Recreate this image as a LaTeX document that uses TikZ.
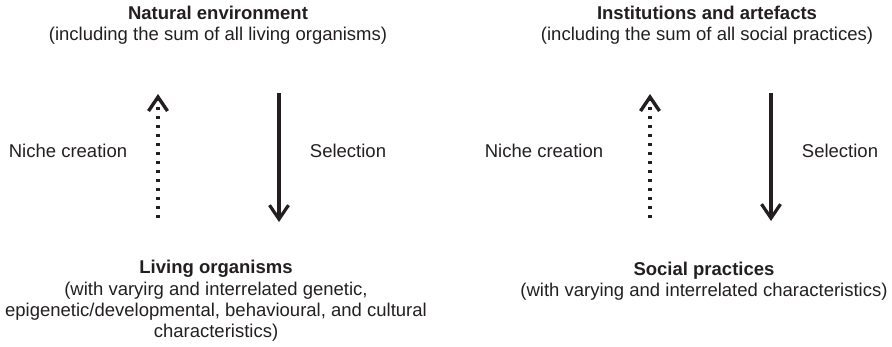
\documentclass[tikz,border=0pt]{standalone}
\usepackage{fontspec}
\setmainfont{Liberation Sans}
\usetikzlibrary{arrows.meta,positioning}
\definecolor{ink}{HTML}{231F20}
\tikzset{
  lbl/.style={font=\fontsize{9.25}{10.6}\selectfont, text=ink, inner sep=0pt, align=center},
  selarrow/.style={draw=ink, line width=1.6pt, -{Straight Barb[length=7pt,width=9.5pt]}},
  nichearrow/.style={draw=ink, line width=1.7pt, dash pattern=on 1.7pt off 2.8pt, -{Straight Barb[length=7pt,width=9.5pt]}}
}

\begin{document}
\begin{tikzpicture}[x=0.5pt,y=-0.5pt]
  \useasboundingbox (0,0) rectangle (892,347);

  % Left panel: natural environment and living organisms
  \node[lbl] (natEnv) at (218,25) {\textbf{Natural environment}\\(including the sum of all living organisms)};
  \node[lbl] (livOrg) at (216,301) {\textbf{Living organisms}\\(with varyirg and interrelated genetic,\\epigenetic/developmental, behavioural, and cultural\\characteristics)};
  \node[lbl] (nicheL) at (68,151) {Niche creation};
  \node[lbl] (selL) at (348,151) {Selection};

  % Right panel: institutions and social practices
  \node[lbl] (instArt) at (707,25) {\textbf{Institutions and artefacts}\\(including the sum of all social practices)};
  \node[lbl] (socPrac) at (704,281) {\textbf{Social practices}\\(with varying and interrelated characteristics)};
  \node[lbl] (nicheR) at (544,151) {Niche creation};
  \node[lbl] (selR) at (840,151) {Selection};

  % Arrow ends
  \coordinate (nicheLlow) at (158,218);
  \coordinate (nicheLtop) at (158,94);
  \coordinate (selLtop) at (279,93);
  \coordinate (selLlow) at (279,222);
  \coordinate (nicheRlow) at (650,218);
  \coordinate (nicheRtop) at (650,94);
  \coordinate (selRtop) at (771,93);
  \coordinate (selRlow) at (771,221);

  % Niche creation (dotted) and selection (solid)
  \draw[nichearrow] (nicheLlow) -- (nicheLtop);
  \draw[selarrow] (selLtop) -- (selLlow);
  \draw[nichearrow] (nicheRlow) -- (nicheRtop);
  \draw[selarrow] (selRtop) -- (selRlow);
\end{tikzpicture}
\end{document}
